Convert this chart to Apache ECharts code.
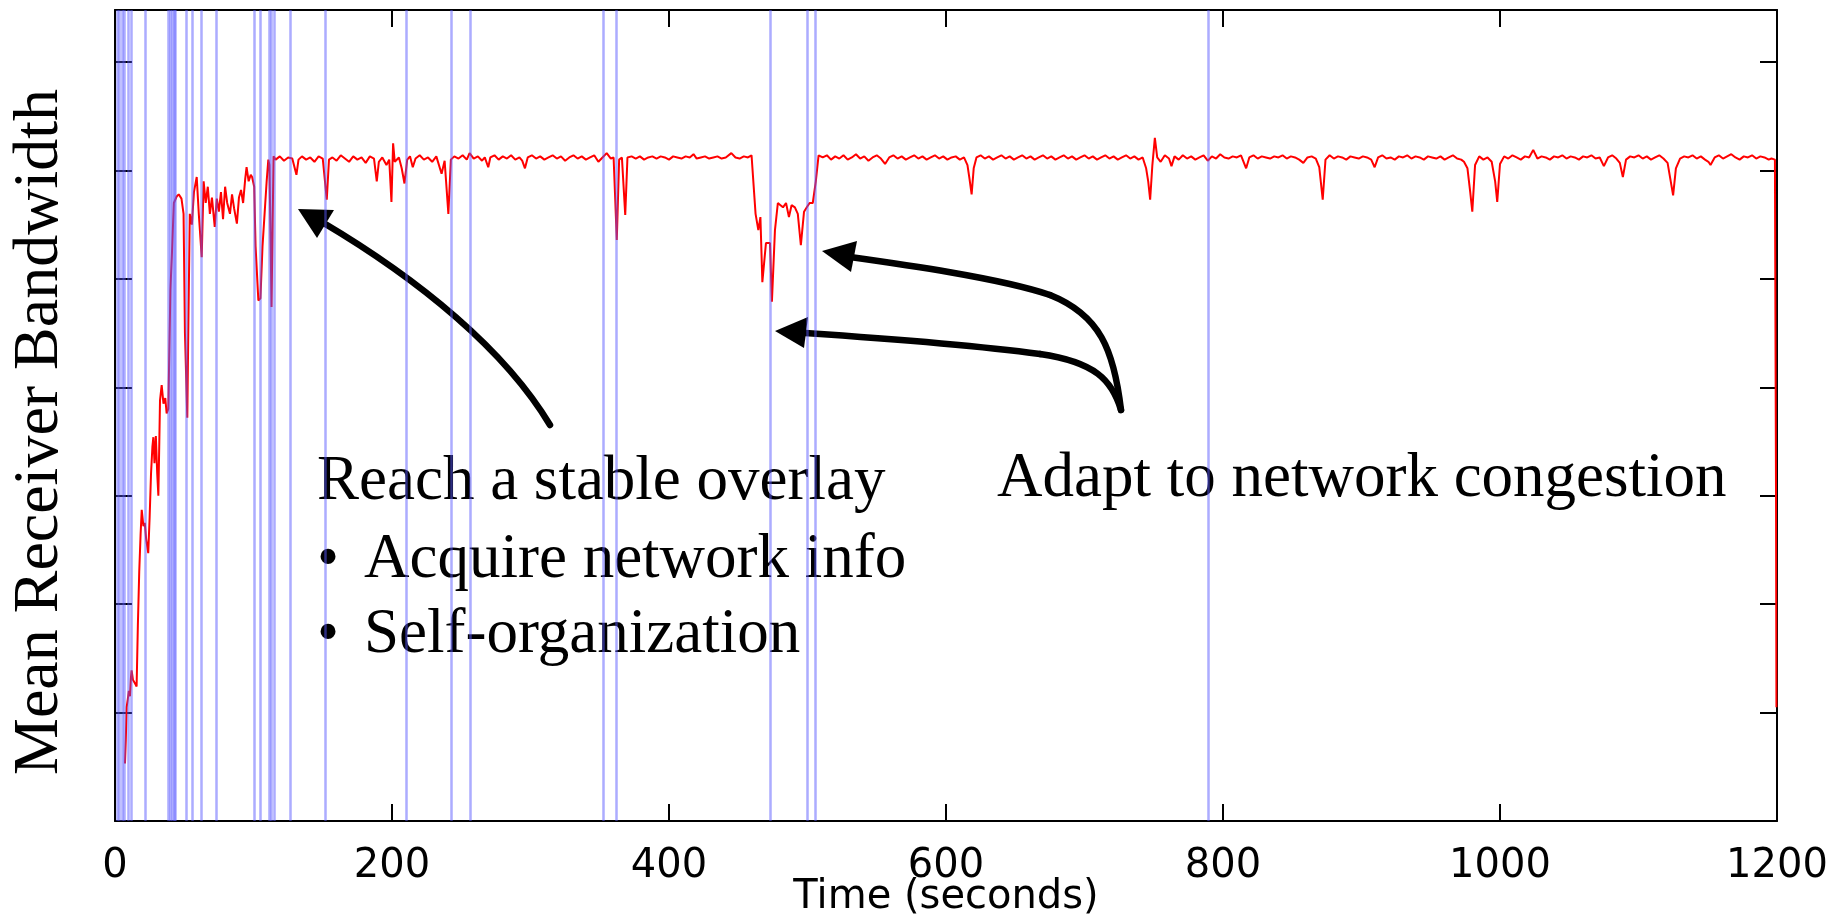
<!DOCTYPE html>
<html>
<head>
<meta charset="utf-8">
<title>Mean Receiver Bandwidth</title>
<script src="https://cdn.jsdelivr.net/npm/echarts@6/dist/echarts.min.js"></script>
<style>
  html, body { margin: 0; padding: 0; background: #fff; }
  #main { width: 1843px; height: 918px; }
</style>
</head>
<body>
<div id="main"></div>
<script>
// [time (s), mean receiver bandwidth], y in tick units
var rampUp = [
  [7.2, 0.53], [7.8, 0.75], [8.4, 1.05], [9.2, 1.12], [10.0, 1.20], [10.8, 1.15], [11.5, 1.32], [12.0, 1.39], [13.0, 1.30], [14.4, 1.27],
  [15.6, 1.24], [16.5, 1.80], [17.5, 2.30], [18.5, 2.65], [19.3, 2.87], [20.5, 2.72], [21.5, 2.75], [22.5, 2.60], [24.0, 2.47], [25.0, 2.80],
  [26.0, 3.20], [27.0, 3.45], [27.7, 3.54], [28.5, 3.30], [29.5, 3.55], [30.5, 3.20], [31.3, 3.00], [32.0, 3.50], [32.5, 3.88], [33.7, 4.02],
  [35.0, 3.85], [36.3, 3.90], [37.3, 3.76], [38.5, 3.80], [40.0, 4.90], [41.0, 5.20], [42.5, 5.70], [44.5, 5.76], [46.0, 5.78], [48.0, 5.74],
  [49.5, 5.60], [50.5, 4.50], [52.2, 3.72], [53.0, 4.60], [54.0, 5.60], [55.5, 5.50], [57.0, 5.80], [59.0, 5.94], [60.5, 5.60], [62.6, 5.20],
  [64.0, 5.90], [65.5, 5.70], [67.0, 5.85], [68.5, 5.60], [70.0, 5.75], [72.0, 5.48], [73.5, 5.74], [75.0, 5.62], [76.5, 5.80], [78.0, 5.55],
  [79.5, 5.85], [81.0, 5.70], [83.0, 5.60], [84.5, 5.78], [86.0, 5.65], [88.0, 5.51], [89.5, 5.75], [91.0, 5.82], [92.5, 5.70], [94.0, 5.92],
  [95.0, 6.03], [96.5, 5.90], [98.0, 5.96], [99.0, 5.94], [100.5, 5.85], [101.5, 5.30], [103.5, 4.80], [105.0, 4.82], [106.5, 5.30], [108.0, 5.60],
  [109.5, 5.90], [110.7, 6.10], [111.5, 6.05], [112.3, 5.40], [113.0, 4.74], [113.8, 5.50], [114.5, 6.13]
]

var stableA = [
  [116, 6.10], [119, 6.13], [122, 6.09], [125, 6.12], [128, 6.11], [131, 5.96], [132.5, 6.10], [135, 6.13], [138, 6.10], [141, 6.12],
  [144, 6.08], [147, 6.13], [150, 6.11], [152.9, 5.73], [154.5, 6.10], [157, 6.12], [160, 6.09], [163, 6.14], [166, 6.11], [169, 6.08],
  [172, 6.13], [175, 6.10], [178, 6.12], [181, 6.07], [184, 6.13], [187, 6.11], [189, 5.90], [190.5, 6.08], [193, 6.12], [196, 6.05],
  [198, 6.10], [199.6, 5.71], [200.8, 6.25], [202, 6.08], [205, 6.12], [207, 6.02], [209, 5.88], [211, 6.10], [213, 6.13], [215, 6.03],
  [217, 6.11], [220, 6.14], [223, 6.10], [226, 6.12], [229, 6.08], [232, 6.13], [235.8, 5.97], [238, 6.09], [240.7, 5.60], [242.5, 6.10],
  [245, 6.13], [248, 6.11], [251, 6.14], [254, 6.10], [256, 6.16], [259, 6.11], [262, 6.13], [265, 6.09], [267, 6.12], [269.5, 6.03],
  [271, 6.12], [274, 6.14], [277, 6.10], [280, 6.13], [283, 6.11], [286, 6.14], [289, 6.10], [292, 6.12], [294, 6.09], [296, 6.02],
  [298, 6.12], [301, 6.14], [304, 6.11], [307, 6.13], [310, 6.10], [313, 6.12], [316, 6.14], [319, 6.11], [322, 6.13], [325, 6.09],
  [328, 6.12], [331, 6.14], [334, 6.11], [337, 6.13], [340, 6.10], [343, 6.12], [346, 6.14], [349, 6.08], [352, 6.12], [355, 6.16],
  [358, 6.11], [360, 6.12], [362.3, 5.36], [364, 6.10], [366, 6.12], [368.4, 5.59], [370, 6.12], [373, 6.13], [376, 6.11], [379, 6.13],
  [382, 6.10], [385, 6.12], [388, 6.13], [391, 6.11], [394, 6.13], [397, 6.12], [400, 6.10], [403, 6.13], [406, 6.12], [409, 6.11],
  [412, 6.13], [415, 6.12], [417.7, 6.15], [420, 6.11], [423, 6.12], [426, 6.13], [429, 6.11], [432, 6.12], [435, 6.13], [438, 6.11],
  [441, 6.12], [445, 6.16], [448, 6.12], [451, 6.11], [454, 6.13], [457, 6.12], [459.6, 6.14]
]

var congestion = [
  [462.5, 5.60], [464.5, 5.45], [466, 5.57], [467.4, 4.97], [470, 5.33], [472.9, 5.33], [474.3, 4.79], [476.5, 5.45], [478.6, 5.70], [480.5, 5.68],
  [482.3, 5.66], [484.5, 5.70], [486.6, 5.57], [488.5, 5.68], [490.9, 5.66], [493, 5.60], [495.2, 5.31], [497.5, 5.62], [499.5, 5.66], [501.5, 5.70],
  [503.8, 5.70], [506, 5.90], [508, 6.14]
]

var stableB = [
  [511, 6.12], [514, 6.14], [517, 6.10], [520, 6.13], [523, 6.11], [526, 6.14], [529, 6.10], [532, 6.12], [535, 6.15], [538, 6.11],
  [541, 6.13], [544, 6.09], [547, 6.12], [550, 6.14], [553, 6.11], [556, 6.06], [559, 6.12], [562, 6.14], [565, 6.11], [568, 6.13],
  [571, 6.10], [574, 6.12], [577, 6.14], [580, 6.11], [583, 6.13], [586, 6.10], [589, 6.12], [592, 6.14], [595, 6.11], [598, 6.13],
  [601, 6.10], [604, 6.12], [607, 6.13], [610, 6.10], [613, 6.12], [615.5, 6.05], [617, 5.92], [618.5, 5.78], [620, 6.02], [622, 6.12],
  [625, 6.14], [628, 6.11], [631, 6.13], [634, 6.10], [637, 6.12], [640, 6.14], [643, 6.11], [646, 6.13], [649, 6.10], [652, 6.12],
  [655, 6.14], [658, 6.11], [661, 6.13], [664, 6.10], [667, 6.12], [670, 6.14], [673, 6.11], [676, 6.13], [679, 6.10], [682, 6.12],
  [685, 6.14], [688, 6.11], [691, 6.13], [694, 6.10], [697, 6.12], [700, 6.14], [703, 6.11], [706, 6.13], [709, 6.10], [712, 6.12],
  [715, 6.14], [718, 6.11], [721, 6.13], [724, 6.10], [727, 6.12], [730, 6.14], [733, 6.11], [736, 6.13], [739, 6.10], [742, 6.12],
  [744.5, 6.02], [746, 5.90], [747.4, 5.73], [749, 6.05], [750.8, 6.30], [752.5, 6.12], [755, 6.08], [758, 6.14], [761, 6.11], [762.8, 6.04],
  [765, 6.13], [768, 6.10], [771, 6.14], [774, 6.11], [777, 6.13], [780, 6.10], [783, 6.12], [786, 6.14], [789, 6.09], [792, 6.13],
  [795, 6.11], [798, 6.15], [801, 6.12], [804, 6.11], [807, 6.13], [810, 6.12], [813, 6.14], [816.7, 6.02], [819, 6.12], [822, 6.14],
  [825, 6.11], [828, 6.13], [831, 6.12], [834, 6.11], [837, 6.13], [840, 6.12], [843, 6.14], [846, 6.11], [849, 6.13], [852, 6.12],
  [855, 6.10], [858, 6.07], [861, 6.12], [864, 6.13], [867, 6.11], [869.5, 6.03], [872, 5.73], [874, 6.10], [877, 6.14], [880, 6.11],
  [883, 6.13], [886, 6.12], [889, 6.10], [892, 6.13], [895, 6.12], [898, 6.11], [901, 6.13], [904, 6.12], [907, 6.10], [909.5, 6.03],
  [912, 6.12], [915, 6.14], [918, 6.11], [921, 6.12], [924, 6.10], [927, 6.13], [930, 6.12], [933, 6.14], [936, 6.11], [939, 6.13],
  [942, 6.12], [945, 6.10], [948, 6.13], [951, 6.12], [954, 6.11], [957, 6.13], [960, 6.10], [963, 6.12], [966, 6.14], [969, 6.11],
  [972, 6.10], [974, 6.08], [976.5, 6.02], [978.5, 5.80], [980, 5.62], [982, 6.05], [985, 6.13], [988, 6.10], [991, 6.12], [994, 6.08],
  [996.5, 5.90], [998, 5.71], [1000, 6.06], [1003, 6.13], [1006, 6.11], [1009, 6.14], [1012, 6.12], [1015, 6.10], [1018, 6.13], [1021, 6.12],
  [1024, 6.19], [1027, 6.11], [1030, 6.13], [1033, 6.12], [1036, 6.10], [1039, 6.13], [1042, 6.12], [1045, 6.14], [1048, 6.11], [1051, 6.13],
  [1054, 6.12], [1057, 6.10], [1060, 6.13], [1063, 6.12], [1066, 6.14], [1069, 6.11], [1072, 6.12], [1075, 6.04], [1078, 6.12], [1081, 6.14],
  [1084, 6.11], [1086.5, 6.07], [1088.7, 5.94], [1091, 6.10], [1094, 6.13], [1097, 6.12], [1100, 6.14], [1103, 6.11], [1106, 6.13], [1109, 6.10],
  [1112, 6.12], [1115, 6.14], [1118, 6.11], [1121, 6.07], [1123, 5.92], [1125, 5.77], [1127, 6.02], [1130, 6.11], [1133, 6.13], [1136, 6.12],
  [1139, 6.14], [1142, 6.11], [1145, 6.13], [1148, 6.10], [1150.5, 6.08], [1152, 6.05], [1155, 6.12], [1158, 6.14], [1161, 6.11], [1164, 6.13],
  [1167, 6.15], [1170, 6.12], [1173, 6.10], [1176, 6.13], [1179, 6.12], [1182, 6.14], [1185, 6.11], [1188, 6.13], [1191, 6.12], [1194, 6.10],
  [1196, 6.11], [1198.5, 6.10], [1199.3, 3.00], [1199.6, 1.05]
]

// overlay change events (blue vertical lines), seconds
var eventTimes = [1.5, 3, 5, 7, 9.5, 11.5, 21.7, 38.3, 39.8, 41.2, 42.5, 43.3, 51.3, 56, 62, 73.4,
  100.3, 104.7, 111.5, 113, 114.8, 126.4, 151.6, 210, 242.6, 256.8, 352.8, 362, 473, 500, 505.6, 789.4]

var yTop = 7.48

var chart = echarts.init(document.getElementById('main'))

function frameAxis (position, extra) {
  return Object.assign({
    type: 'value',
    position: position,
    axisLine: { show: true, onZero: false, lineStyle: { color: '#000', width: 2 } },
    axisTick: { show: true, inside: true, length: 17, lineStyle: { color: '#000', width: 2 } },
    axisLabel: { show: false },
    splitLine: { show: false }
  }, extra)
}

var sans = '"DejaVu Sans", Arial, sans-serif'
var serif = '"Liberation Serif", "Times New Roman", serif'
function note (x, y, text) {
  return {
    type: 'text', x: x, y: y, silent: true,
    style: { text: text, fontSize: 63, fontFamily: serif, fill: '#000', align: 'left', verticalAlign: 'middle' }
  }
}
// cubic segment of an annotation arrow: [x1, y1, cpx1, cpy1, cpx2, cpy2, x2, y2]
function curve (p) {
  return {
    type: 'bezierCurve', silent: true,
    shape: { x1: p[0], y1: p[1], cpx1: p[2], cpy1: p[3], cpx2: p[4], cpy2: p[5], x2: p[6], y2: p[7] },
    style: { fill: null, stroke: '#000', lineWidth: 6.5, lineCap: 'round' }
  }
}
function head (pts) {
  return { type: 'polygon', silent: true, shape: { points: pts }, style: { fill: '#000' } }
}

chart.setOption({
  animation: false,
  backgroundColor: '#fff',
  grid: { left: 115, right: 66, top: 10, bottom: 97, containLabel: false, outerBoundsMode: 'none' },
  xAxis: [
    frameAxis('bottom', {
      min: 0, max: 1200, interval: 200,
      axisLabel: {
        show: true, color: '#000', fontSize: 40, fontFamily: sans, margin: 26,
        formatter: function (v) { return String(v) }
      },
      name: 'Time (seconds)',
      nameLocation: 'middle',
      nameGap: 57,
      nameMoveOverlap: false,
      nameTextStyle: { color: '#000', fontSize: 40, fontFamily: sans }
    }),
    frameAxis('top', { min: 0, max: 1200, interval: 200 })
  ],
  yAxis: [
    frameAxis('left', { min: 0, max: yTop, interval: 1 }),
    frameAxis('right', { min: 0, max: yTop, interval: 1 })
  ],
  series: [
    {
      type: 'line',
      xAxisIndex: 0,
      yAxisIndex: 0,
      data: rampUp.concat(stableA, congestion, stableB),
      showSymbol: false,
      symbol: 'none',
      lineStyle: { color: '#ff0000', width: 2 },
      emphasis: { disabled: true },
      markLine: {
        silent: true,
        symbol: ['none', 'none'],
        label: { show: false },
        lineStyle: { type: 'solid', color: 'rgba(90, 90, 255, 0.5)', width: 2.5 },
        emphasis: { disabled: true },
        data: eventTimes.map(function (t) { return { xAxis: t } })
      }
    }
  ],
  graphic: [
    {
      type: 'text', x: 40, y: 432, rotation: Math.PI / 2, silent: true,
      style: { text: 'Mean Receiver Bandwidth', fontSize: 64, fontFamily: serif, fill: '#000', align: 'center', verticalAlign: 'middle' }
    },
    note(317, 482, 'Reach a stable overlay'),
    note(317, 560, '•'),
    note(364, 560, 'Acquire network info'),
    note(317, 635, '•'),
    note(364, 635, 'Self-organization'),
    note(997, 479, 'Adapt to network congestion'),
    curve([550, 425, 505, 350, 420, 280, 322, 222]),
    head([[298, 209], [334, 210], [317, 238]]),
    curve([1121, 410, 1114, 350, 1100, 315, 1050, 295]),
    curve([1050, 295, 1000, 278, 900, 264, 850, 257]),
    head([[822, 251], [857, 241], [851, 272]]),
    curve([1121, 410, 1112, 380, 1095, 362, 1040, 354]),
    curve([1040, 354, 980, 346, 880, 338, 805, 333]),
    head([[775, 331], [808, 317], [804, 348]])
  ]
})
</script>
</body>
</html>
